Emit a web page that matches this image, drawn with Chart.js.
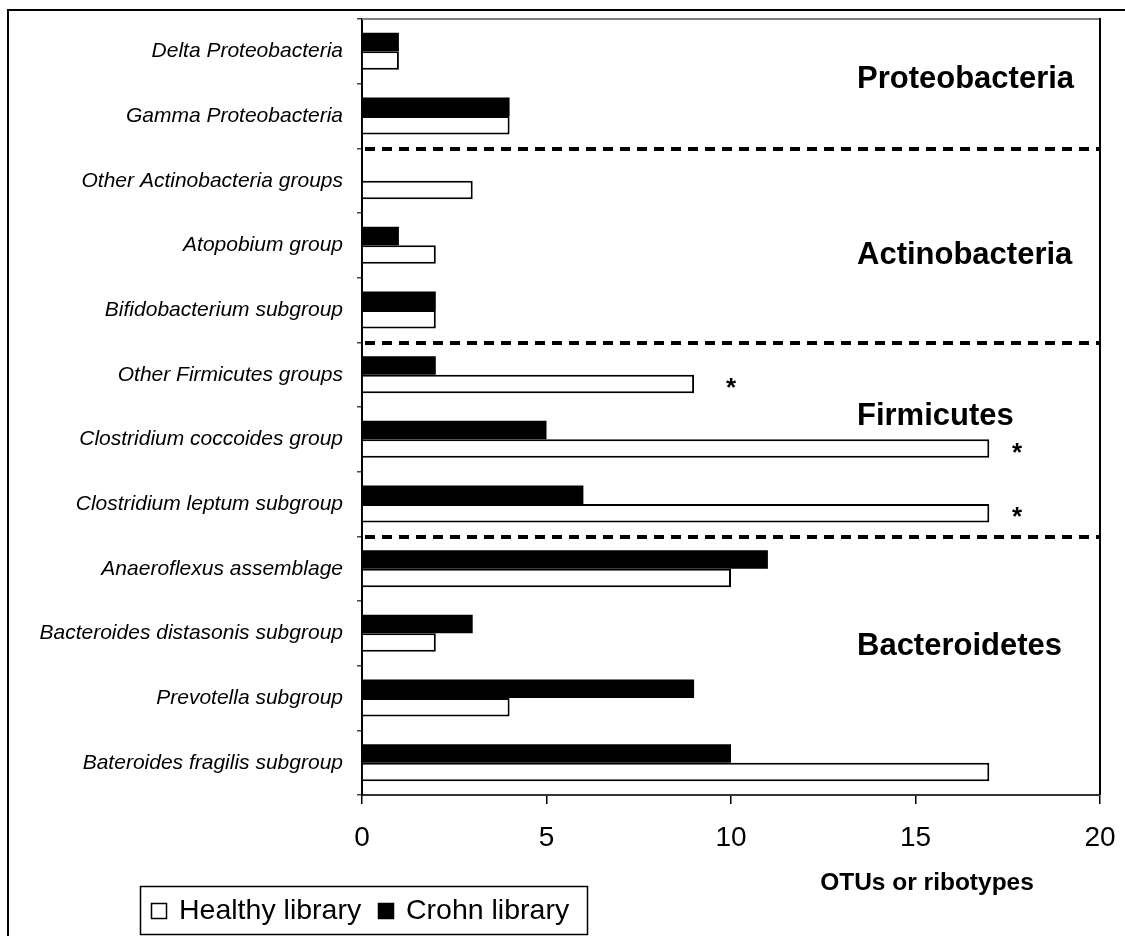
<!DOCTYPE html>
<html>
<head>
<meta charset="utf-8">
<script src="https://cdn.jsdelivr.net/npm/chart.js@4/dist/chart.umd.min.js"></script>
<style>
html,body{margin:0;padding:0;background:#fff;}
canvas{display:block;}
</style>
</head>
<body>
<canvas id="c" width="1125" height="936"></canvas>
<script>
const categories = [
  'Delta Proteobacteria',
  'Gamma Proteobacteria',
  'Other Actinobacteria groups',
  'Atopobium group',
  'Bifidobacterium subgroup',
  'Other Firmicutes groups',
  'Clostridium coccoides group',
  'Clostridium leptum subgroup',
  'Anaeroflexus assemblage',
  'Bacteroides distasonis subgroup',
  'Prevotella subgroup',
  'Bateroides fragilis subgroup'
];
const healthyValues = [1, 4, 3, 2, 2, 9, 17, 17, 10, 2, 4, 17];
const crohnValues   = [1, 4, 0, 1, 2, 2, 5, 6, 11, 3, 9, 10];
const xTickValues = [0, 5, 10, 15, 20];
const groupNames = ['Proteobacteria', 'Actinobacteria', 'Firmicutes', 'Bacteroidetes'];
const groupLabelPos = [0.43, 3.16, 5.65, 9.21];   // category-index positions of the group labels
const groupDividers = [2, 5, 8];                   // dashed line before these category indices
const starCategories = [5, 6, 7];
const starXValues = [10, 17.75, 17.75];
const xAxisTitle = 'OTUs or ribotypes';

const FONT = "'Liberation Sans', Arial, sans-serif";

const decorations = {
  id: 'decorations',
  beforeDraw(chart) {
    const ctx = chart.ctx;
    ctx.save();
    ctx.fillStyle = '#fff';
    ctx.fillRect(0, 0, chart.width, chart.height);
    ctx.strokeStyle = '#000';
    ctx.lineWidth = 2;
    ctx.beginPath();
    ctx.moveTo(8, 937);
    ctx.lineTo(8, 10);
    ctx.lineTo(1126, 10);
    ctx.stroke();
    ctx.restore();
  },
  afterDatasetsDraw(chart) {
    const ctx = chart.ctx;
    const a = chart.chartArea;
    const y = chart.scales.y;
    const x = chart.scales.x;
    ctx.save();
    // frame top (gray) and right (black)
    ctx.lineWidth = 2;
    ctx.strokeStyle = '#808080';
    ctx.beginPath(); ctx.moveTo(a.left, a.top); ctx.lineTo(a.right, a.top); ctx.stroke();
    ctx.strokeStyle = '#000';
    ctx.beginPath(); ctx.moveTo(a.right, a.top - 1); ctx.lineTo(a.right, a.bottom); ctx.stroke();
    // dashed dividers
    ctx.setLineDash([10, 7]);
    ctx.lineWidth = 4;
    ctx.strokeStyle = '#000';
    groupDividers.forEach(i => {
      const py = Math.round((y.getPixelForValue(i - 1) + y.getPixelForValue(i)) / 2) + 1;
      ctx.beginPath(); ctx.moveTo(a.left + 3, py); ctx.lineTo(a.right, py); ctx.stroke();
    });
    ctx.setLineDash([]);
    // group labels
    ctx.fillStyle = '#000';
    ctx.font = 'bold 31px ' + FONT;
    ctx.textAlign = 'left';
    ctx.textBaseline = 'middle';
    groupNames.forEach((g, i) => {
      ctx.fillText(g, 857, y.getPixelForValue(groupLabelPos[i]));
    });
    // stars beside healthy bars
    const meta = chart.getDatasetMeta(1);
    ctx.font = 'bold 26px ' + FONT;
    ctx.textAlign = 'center';
    ctx.textBaseline = 'alphabetic';
    starCategories.forEach((ci, k) => {
      const bar = meta.data[ci];
      ctx.fillText('*', x.getPixelForValue(starXValues[k]), bar.y + 12);
    });
    // x axis title
    ctx.font = 'bold 24.5px ' + FONT;
    ctx.textAlign = 'center';
    ctx.textBaseline = 'middle';
    ctx.fillText(xAxisTitle, 927, 883);
    // legend
    ctx.lineWidth = 1.5;
    ctx.strokeStyle = '#000';
    ctx.strokeRect(140.5, 886.5, 447, 48);
    ctx.font = '28.5px ' + FONT;
    ctx.textAlign = 'left';
    ctx.textBaseline = 'middle';
    const items = [chart.data.datasets[1], chart.data.datasets[0]];
    let lx = 151;
    items.forEach((ds, i) => {
      ctx.fillStyle = ds.backgroundColor;
      ctx.fillRect(lx, 903, 16, 16);
      ctx.lineWidth = 1.5;
      ctx.strokeRect(lx + 0.5, 903.5, 15, 15);
      ctx.fillStyle = '#000';
      ctx.fillText(ds.label, lx + 28, 911);
      lx = 378;
    });
    ctx.restore();
  }
};

new Chart(document.getElementById('c'), {
  type: 'bar',
  data: {
    labels: categories,
    datasets: [
      { label: 'Crohn library', data: crohnValues, backgroundColor: '#000', borderColor: '#000', borderWidth: 0 },
      { label: 'Healthy library', data: healthyValues, backgroundColor: '#fff', borderColor: '#000', borderWidth: 2 }
    ]
  },
  options: {
    indexAxis: 'y',
    responsive: false,
    animation: false,
    devicePixelRatio: 1,
    categoryPercentage: 0.572,
    barPercentage: 1.0,
    layout: { padding: { left: 0, top: 19, right: 25, bottom: 0 } },
    plugins: { legend: { display: false }, tooltip: { enabled: false } },
    scales: {
      x: {
        min: 0, max: 20,
        afterBuildTicks(scale) { scale.ticks = xTickValues.map(v => ({ value: v })); },
        afterFit(scale) { scale.height = 141; scale.paddingLeft = 0; scale.paddingRight = 0; },
        grid: { drawOnChartArea: false, tickLength: 9, color: '#000', lineWidth: 1.5 },
        border: { color: '#333', width: 2 },
        ticks: { color: '#000', font: { family: FONT, size: 28 }, padding: 17, maxRotation: 0 }
      },
      y: {
        afterFit(scale) { scale.width = 362; scale.paddingTop = 0; scale.paddingBottom = 0; },
        grid: { drawOnChartArea: false, tickLength: 5, color: '#444', lineWidth: 1.5, offset: true },
        border: { color: '#000', width: 2 },
        ticks: { color: '#000', font: { family: FONT, size: 21, style: 'italic' }, padding: 14, crossAlign: 'near' }
      }
    }
  },
  plugins: [decorations]
});
</script>
</body>
</html>
